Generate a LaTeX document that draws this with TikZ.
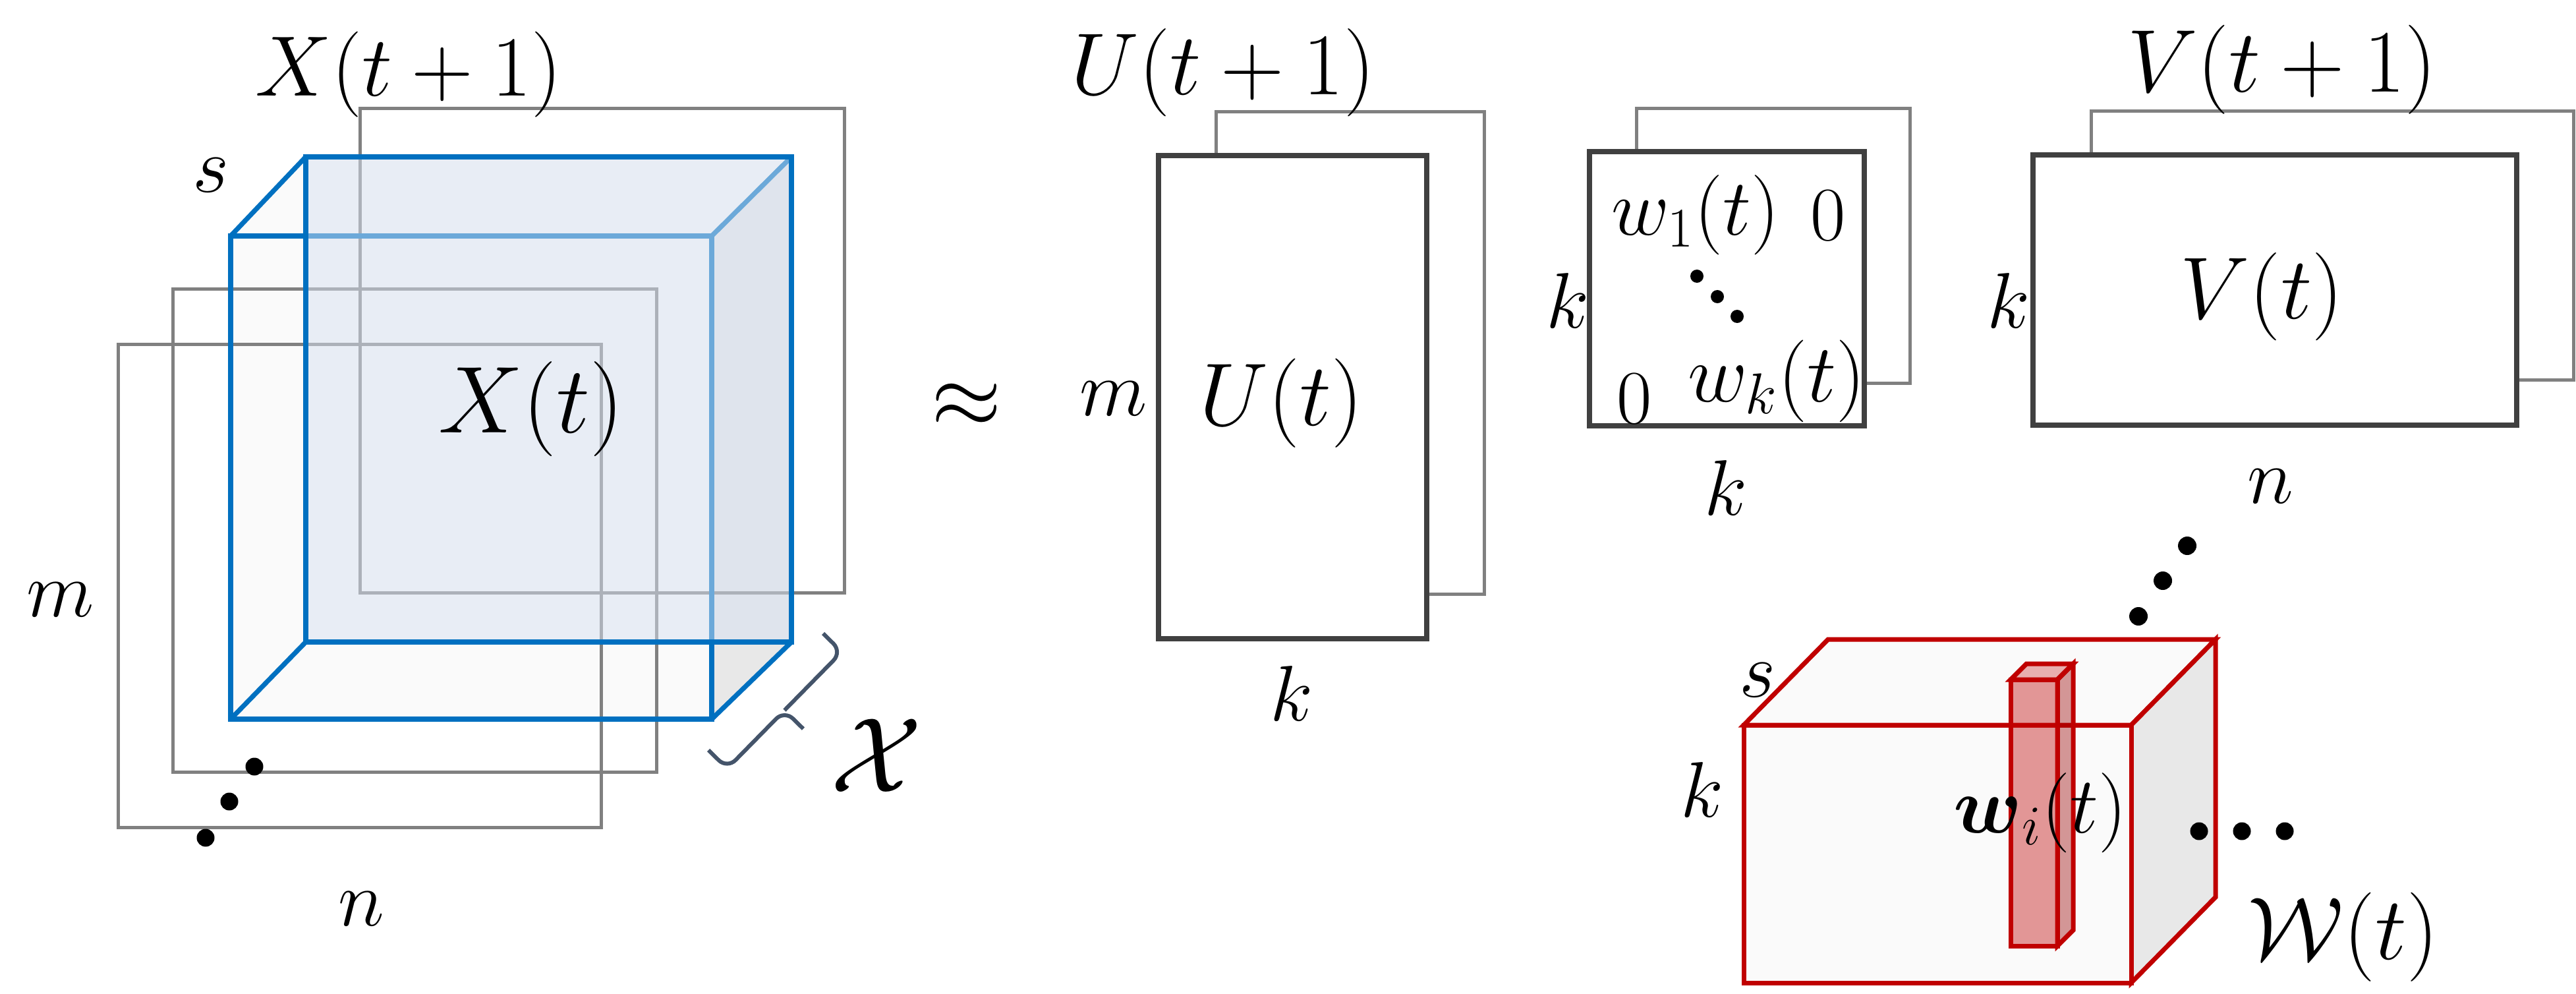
\RequirePackage{fix-cm}
\documentclass[tikz,border=0pt]{standalone}
\usepackage{amsmath}
\usepackage{xcolor}
\usepackage{tikz}
\definecolor{cBlue}{HTML}{0070C0}
\definecolor{cRed}{HTML}{C00000}
\definecolor{cDark}{HTML}{404040}
\definecolor{cGray}{HTML}{808080}
\definecolor{cBrace}{HTML}{44546A}
\definecolor{cFace}{HTML}{FAFAFA}
\definecolor{cSide}{HTML}{E8E8E8}
\definecolor{cBack}{HTML}{D8E2F2}

\begin{document}
\begin{tikzpicture}[
  slice/.style={draw=cGray, line width=0.5mm},
  mat/.style={draw=cDark, line width=0.84mm, fill=white},
  bedge/.style={draw=cBlue, line width=0.73mm},
  redge/.style={draw=cRed, line width=0.7mm},
  lbl/.style={inner sep=0pt, font=\fontsize{#1}{#1}\selectfont},
  lbl/.default=34,
]
\useasboundingbox (0,0) rectangle (390.9mm,-150.7mm);

% =================== TENSOR X ===================
\fill[cFace] (35mm,-35.8mm) -- (46.4mm,-23.8mm) -- (120.1mm,-23.8mm) -- (120.1mm,-97.4mm)
  -- (108mm,-109.1mm) -- (35mm,-109.1mm) -- cycle;
\fill[cSide] (108mm,-35.8mm) -- (120.1mm,-23.8mm) -- (120.1mm,-97.4mm) -- (108mm,-109.1mm) -- cycle;

% time slices
\draw[slice] (54.6mm,-16.5mm) rectangle (128.1mm,-89.9mm);
\draw[slice] (26.2mm,-43.8mm) rectangle (99.6mm,-117.1mm);
\draw[slice] (17.9mm,-52.2mm) rectangle (91.2mm,-125.5mm);

\draw[bedge] (35mm,-35.8mm) rectangle (108mm,-109.1mm);
\draw[bedge] (35mm,-35.8mm) -- (46.4mm,-23.8mm) (108mm,-35.8mm) -- (120.1mm,-23.8mm)
  (35mm,-109.1mm) -- (46.4mm,-97.4mm) (108mm,-109.1mm) -- (120.1mm,-97.4mm);
\draw[bedge, fill=cBack, fill opacity=0.5] (46.4mm,-23.8mm) rectangle (120.1mm,-97.4mm);

\node[lbl=37] (xnext) at (62mm,-11.3mm) {$X(t+1)$};
\node[lbl=41] (xt) at (80.6mm,-62mm) {$X(t)$};
\node[lbl] (xs) at (32mm,-26.6mm) {$s$};
\node[lbl] (xm) at (9.2mm,-91mm) {$m$};
\node[lbl] (xn) at (54.8mm,-137.9mm) {$n$};
\fill (38.6mm,-116.3mm) circle (1.35mm) (34.8mm,-121.6mm) circle (1.35mm) (31.2mm,-127.1mm) circle (1.35mm);

% brace over the time mode
\draw[cBrace, line width=0.6mm, rounded corners=1.8mm]
  (107.5mm,-113.8mm) -- (110.35mm,-116.6mm) -- (119.04mm,-107.76mm) -- (121.89mm,-110.56mm)
  (124.9mm,-96.1mm) -- (127.75mm,-98.9mm) -- (119.04mm,-107.76mm);
\node[lbl=46] (xcal) at (133mm,-114.6mm) {$\mathcal{X}$};

\node[lbl=39] (approx) at (146.7mm,-61.5mm) {$\approx$};

% =================== FACTOR U ===================
\draw[slice] (184.5mm,-17mm) rectangle (225.2mm,-90.1mm);
\draw[mat] (175.8mm,-23.6mm) rectangle (216.5mm,-96.9mm);
\node[lbl=38] (unext) at (185.6mm,-11mm) {$U(t+1)$};
\node[lbl=38.5] (ut) at (194.4mm,-61.2mm) {$U(t)$};
\node[lbl] (um) at (169mm,-60.5mm) {$m$};
\node[lbl] (uk) at (196mm,-105.2mm) {$k$};

% =================== DIAGONAL W ===================
\draw[slice] (248.3mm,-16.5mm) rectangle (289.8mm,-58.1mm);
\draw[mat] (241.2mm,-23mm) rectangle (282.9mm,-64.6mm);
\node[lbl=34.5] (w1) at (257.3mm,-32.6mm) {$w_1(t)$};
\node[lbl=33] (zup) at (277.4mm,-32.7mm) {$0$};
\node[lbl=33] (zlow) at (248mm,-60.5mm) {$0$};
\node[lbl=35.5] (wk) at (269.6mm,-57.8mm) {$w_k(t)$};
\fill (257.5mm,-41.9mm) circle (1mm) (260.6mm,-45mm) circle (1mm) (263.6mm,-48mm) circle (1mm);
\node[lbl] (dk) at (237.9mm,-45.6mm) {$k$};
\node[lbl] (dkb) at (261.9mm,-74mm) {$k$};

% =================== FACTOR V ===================
\draw[slice] (317.3mm,-16.9mm) rectangle (390.5mm,-57.6mm);
\draw[mat] (308.5mm,-23.5mm) rectangle (381.9mm,-64.5mm);
\node[lbl=38.5] (vnext) at (346.3mm,-10.6mm) {$V(t+1)$};
\node[lbl=38] (vt) at (343.2mm,-45mm) {$V(t)$};
\node[lbl] (vk) at (304.8mm,-45.6mm) {$k$};
\node[lbl] (vn) at (344.5mm,-73.8mm) {$n$};

% =================== TENSOR W ===================
\filldraw[redge, fill=cFace] (264.6mm,-110mm) -- (277.4mm,-97mm) -- (336.2mm,-97mm) -- (323.4mm,-110mm) -- cycle;
\filldraw[redge, fill=cSide] (323.4mm,-110mm) -- (336.2mm,-97mm) -- (336.2mm,-136.1mm) -- (323.4mm,-149.1mm) -- cycle;
\filldraw[redge, fill=cFace] (264.6mm,-110mm) rectangle (323.4mm,-149.1mm);

% fibre w_i
\filldraw[redge, fill=cRed, fill opacity=0.4] (305.1mm,-103.1mm) rectangle (312.2mm,-143.5mm);
\filldraw[redge, fill=cRed, fill opacity=0.3] (305.1mm,-103.1mm) -- (307.5mm,-100.7mm) -- (314.6mm,-100.7mm) -- (312.2mm,-103.1mm) -- cycle;
\filldraw[redge, fill=cRed!80!black, fill opacity=0.4] (312.2mm,-103.1mm) -- (314.6mm,-100.7mm) -- (314.6mm,-141.1mm) -- (312.2mm,-143.5mm) -- cycle;

\node[lbl=34.5] (wi) at (309.6mm,-123.3mm) {$\boldsymbol{w}_i(t)$};
\node[lbl] (ws) at (266.7mm,-103.2mm) {$s$};
\node[lbl] (wkk) at (258.3mm,-119.8mm) {$k$};
\node[lbl=38.5] (wcal) at (355.6mm,-142.2mm) {$\mathcal{W}(t)$};
\fill (333.7mm,-126.1mm) circle (1.35mm) (340.2mm,-126.1mm) circle (1.35mm) (346.7mm,-126.1mm) circle (1.35mm);
\fill (331.9mm,-82.8mm) circle (1.4mm) (328.2mm,-88.1mm) circle (1.4mm) (324.5mm,-93.5mm) circle (1.4mm);

\end{tikzpicture}
\end{document}
